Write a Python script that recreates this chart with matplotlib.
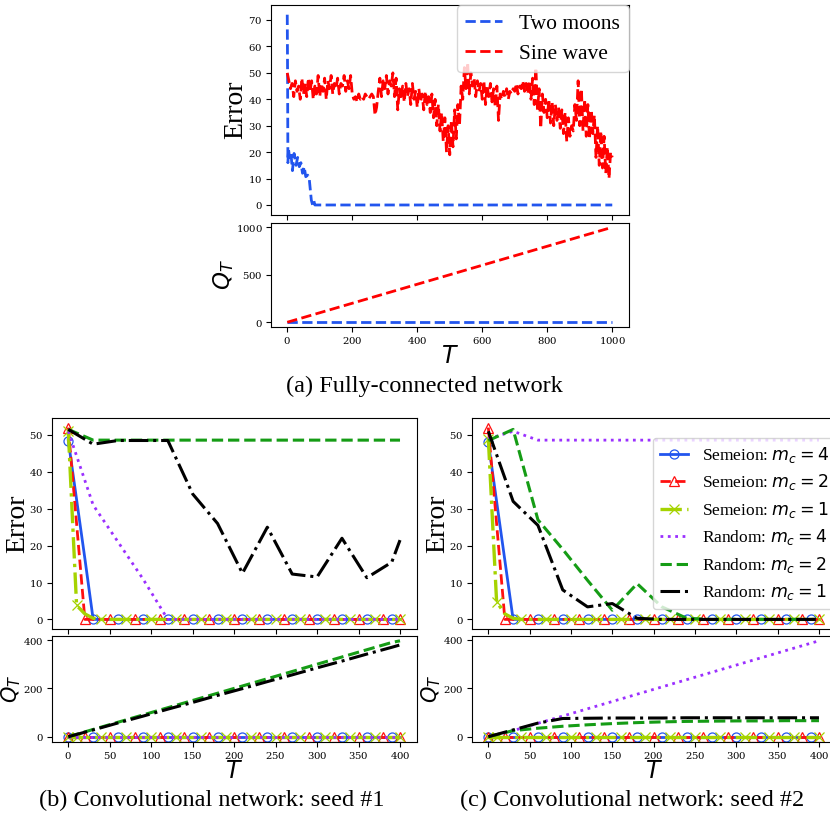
import numpy as np
import matplotlib
matplotlib.use("Agg")
import matplotlib.pyplot as plt

plt.rcParams['font.family'] = ['Liberation Serif', 'DejaVu Serif']
plt.rcParams['mathtext.fontset'] = 'dejavusans'
plt.rcParams['axes.formatter.use_mathtext'] = True

# ---------------- (a) fully-connected network ----------------
moons_T = [0, 1, 2, 4, 7, 11, 16, 21, 27, 32, 37, 42, 47, 52, 57, 63, 68, 74, 78, 82, 85, 88, 1000]
moons_err = [72, 50, 16, 21, 18, 20, 13, 19.5, 15, 18, 14.5, 16, 12, 14.5, 10.7, 11.3, 9.5, 1.9, 0, 1.5, 0, 0, 0]

sine_T = np.arange(0, 1001, 5)
sine_err = [
    50, 47,
    44, 46, 41, 47, 43, 45, 40, 48,
    42, 46, 41, 48, 43, 47, 40, 45, 42, 49,
    41, 46, 43, 48, 40, 47, 44, 49, 42, 46,
    44, 48, 42, 46, 45, 49, 43, 47, 44, 49,
    42, 40, 41, 39, 42, 40, 41, 40, 42, 41,
    40, 41, 42, 41, 34, 37, 43, 48, 41, 47,
    44, 49, 42, 47, 45, 50, 41, 48, 36, 44,
    40, 45, 39, 46, 41, 44, 38, 46, 40, 43,
    37, 44, 39, 42, 36, 43, 38, 41, 35, 42,
    33, 40, 30, 38, 28, 35, 24, 33, 20, 30,
    19, 32, 22, 36, 25, 38, 30, 45, 40, 52,
    44, 54, 42, 50, 45, 48, 41, 47, 43, 46,
    40, 47, 38, 45, 41, 46, 39, 44, 37, 45,
    32, 42, 40, 43, 41, 44, 40, 43, 42, 44,
    43, 46, 42, 45, 44, 47, 43, 46, 42, 47,
    40, 48, 38, 52, 36, 44, 29, 42, 35, 40,
    33, 40, 31, 39, 30, 38, 32, 37, 29, 36,
    27, 35, 24, 33, 26, 30, 28, 38, 32, 47,
    30, 44, 28, 40, 26, 38, 25, 36, 27, 34,
    18, 30, 15, 28, 14, 26, 12, 22, 10, 20,
    18,
]

fc_Q_T = [0, 1000]
moons_Q = [0, 0]
sine_Q = [0, 1000]

# ---------------- (b), (c) convolutional network ----------------
sem_T = np.arange(0, 401, 10)   # 41 evaluation steps
rand_T = [0, 30, 60, 90, 120, 150, 180, 210, 240, 270, 300, 330, 360, 390, 400]

b_sem4_err = [48.5, 32.5, 16.5] + [0] * 38
b_sem2_err = [52, 26] + [0] * 39
b_sem1_err = [51, 3.8, 1.5, 0.3] + [0] * 37
b_rand4_err = [51, 31, 21, 11, 0, 0, 0, 0, 0, 0, 0, 0, 0, 0, 0]
b_rand2_err = [51.5, 48.6, 48.6, 48.6, 48.6, 48.6, 48.6, 48.6, 48.6, 48.6, 48.6, 48.6, 48.6, 48.6, 48.6]
b_rand1_err = [51.5, 47.5, 48.5, 48.5, 48.5, 34, 26, 12.5, 25, 12.3, 11.5, 22, 11.3, 15.5, 21.5]

b_sem_Q = [0] * 41
b_rand4_Q = [0] * 15
b_rand2_Q = [0, 30, 60, 90, 120, 150, 180, 210, 240, 270, 300, 330, 360, 390, 397]
b_rand1_Q = [0, 28, 57, 85, 114, 142, 171, 199, 228, 256, 285, 313, 342, 370, 380]

c_sem4_err = [48, 32, 16] + [0] * 38
c_sem2_err = [52, 26] + [0] * 39
c_sem1_err = [49, 4.8, 1.5, 0.3] + [0] * 37
c_rand4_err = [49, 51, 48.6, 48.6, 48.6, 48.6, 48.6, 48.6, 48.6, 48.6, 48.6, 48.6, 48.6, 48.6, 48.6]
c_rand2_err = [48.5, 51.5, 27, 19, 10.6, 2.5, 9.7, 3.4, 0.3, 0, 0, 0, 0, 0, 0]
c_rand1_err = [51, 32, 25.5, 8, 3.4, 4.3, 0.3, 0, 0, 0, 0, 0, 0, 0, 0]

c_sem_Q = [0] * 41
c_rand4_Q = [0, 25, 55, 85, 115, 145, 175, 205, 235, 265, 295, 325, 355, 385, 395]
c_rand2_Q = [0, 25, 35, 43, 49, 54, 58, 61, 63, 64, 65, 65, 66, 66, 66]
c_rand1_Q = [0, 28, 56, 75, 76, 77, 77, 77, 78, 78, 78, 78, 78, 78, 78]

legend_labels = ['Semeion: $m_c = 4$', 'Semeion: $m_c = 2$', 'Semeion: $m_c = 1$',
                 'Random: $m_c = 4$', 'Random: $m_c = 2$', 'Random: $m_c = 1$']

# ---------------- styles ----------------
C_BLUE = '#2255ee'
C_RED = '#ff1010'
C_LIME = '#a5d300'
C_PURP = '#9b30ff'
C_GREEN = '#159c15'
C_BLACK = '#000000'

mk_circ = list(range(0, 41, 3))
mk_tri = [0] + list(range(2, 41, 3)) + [40]
mk_x = [0] + list(range(1, 41, 3))

TICK_FONT = 'DejaVu Serif'
TICK_SIZE = 7.3
ERR_SIZE = 20
Q_SIZE = 16.5
T_SIZE = 17
CAP_SIZE = 17.5

W, H = 830, 816
fig = plt.figure(figsize=(W / 100, H / 100), dpi=100)


def px_axes(left, right, top, bottom):
    return fig.add_axes([left / W, 1 - bottom / H, (right - left) / W, (bottom - top) / H])


def style_ax(ax):
    ax.tick_params(labelsize=TICK_SIZE, labelfontfamily=TICK_FONT, length=3.5, width=0.8, pad=2.5)


# (a)
ax_a1 = px_axes(271, 628.5, 5.2, 214.5)
ax_a2 = px_axes(271, 628.5, 222.5, 327)
ax_a1.plot(moons_T, moons_err, '--', color=C_BLUE, lw=2, label='Two moons')
ax_a1.plot(sine_T, sine_err, '--', color='red', lw=2, label='Sine wave')
ax_a2.plot(fc_Q_T, moons_Q, '--', color=C_BLUE, lw=2)
ax_a2.plot(fc_Q_T, sine_Q, '--', color='red', lw=2)
for ax in (ax_a1, ax_a2):
    style_ax(ax)
    ax.set_xlim(-50, 1050)
ax_a1.set_xticks([0, 200, 400, 600, 800, 1000])
ax_a1.set_xticklabels([])
ax_a2.set_xticks([0, 200, 400, 600, 800, 1000])
ax_a1.set_yticks([0, 10, 20, 30, 40, 50, 60, 70])
ax_a2.set_yticks([0, 500, 1000])
ax_a1.set_ylabel('Error', fontsize=ERR_SIZE, labelpad=0)
ax_a2.set_ylabel('$Q_T$', fontsize=Q_SIZE, labelpad=0)
ax_a2.set_xlabel('$T$', fontsize=T_SIZE, labelpad=0)
ax_a1.legend(loc='upper right', fontsize=15.5, handlelength=1.7, labelspacing=0.45,
             borderaxespad=0.0)
fig.text(424 / W, 1 - 386 / H, '(a) Fully-connected network', ha='center', va='center',
         fontsize=CAP_SIZE)


def draw_panel(left, right, sem_err, rand_err, sem_Q, rand_Q, caption, cap_x, legend):
    ax1 = px_axes(left, right, 418, 629)
    ax2 = px_axes(left, right, 636, 741.5)
    s4, s2, s1 = sem_err
    r4, r2, r1 = rand_err
    q_s = sem_Q
    q4, q2, q1 = rand_Q
    for ax, a, b, c, d, e, f in ((ax1, s4, s2, s1, r4, r2, r1), (ax2, q_s, q_s, q_s, q4, q2, q1)):
        ax.plot(sem_T, a, '-', color=C_BLUE, lw=2, marker='o', mfc='none', mec=C_BLUE,
                ms=6.5, mew=0.9, markevery=mk_circ, label=legend_labels[0])
        ax.plot(sem_T, b, '--', color=C_RED, lw=2, marker='^', mfc='none', mec=C_RED,
                ms=7, mew=0.9, markevery=mk_tri, label=legend_labels[1])
        ax.plot(sem_T, c, '-.', color=C_LIME, lw=2.4, marker='x', mec=C_LIME,
                ms=6.5, mew=0.9, markevery=mk_x, label=legend_labels[2])
        ax.plot(rand_T, d, ':', color=C_PURP, lw=2, label=legend_labels[3])
        ax.plot(rand_T, e, '--', color=C_GREEN, lw=2.2, label=legend_labels[4])
        ax.plot(rand_T, f, '-.', color=C_BLACK, lw=2.2, label=legend_labels[5])
        style_ax(ax)
        ax.set_xlim(-20, 420)
        ax.set_xticks([0, 50, 100, 150, 200, 250, 300, 350, 400])
    ax1.set_xticklabels([])
    ax1.set_yticks([0, 10, 20, 30, 40, 50])
    ax2.set_yticks([0, 200, 400])
    ax1.set_ylabel('Error', fontsize=ERR_SIZE, labelpad=-1)
    ax2.set_ylabel('$Q_T$', fontsize=15)
    ax2.yaxis.set_label_coords(-28.5 / (right - left), 0.5)
    ax2.set_xlabel('$T$', fontsize=T_SIZE, labelpad=0)
    if legend:
        ax1.legend(loc='center left', bbox_to_anchor=(653 / W, 1 - 523.5 / H),
                   bbox_transform=fig.transFigure, fontsize=12.5, handlelength=1.6,
                   labelspacing=0.43, borderaxespad=0.0)
    fig.text(cap_x / W, 1 - 800 / H, caption, ha='center', va='center', fontsize=CAP_SIZE)


draw_panel(51.7, 416.6,
           (b_sem4_err, b_sem2_err, b_sem1_err),
           (b_rand4_err, b_rand2_err, b_rand1_err),
           b_sem_Q, (b_rand4_Q, b_rand2_Q, b_rand1_Q),
           '(b) Convolutional network: seed #1', 212, False)
draw_panel(471.8, 835.5,
           (c_sem4_err, c_sem2_err, c_sem1_err),
           (c_rand4_err, c_rand2_err, c_rand1_err),
           c_sem_Q, (c_rand4_Q, c_rand2_Q, c_rand1_Q),
           '(c) Convolutional network: seed #2', 632, True)

fig.savefig('out.png', dpi=100)
